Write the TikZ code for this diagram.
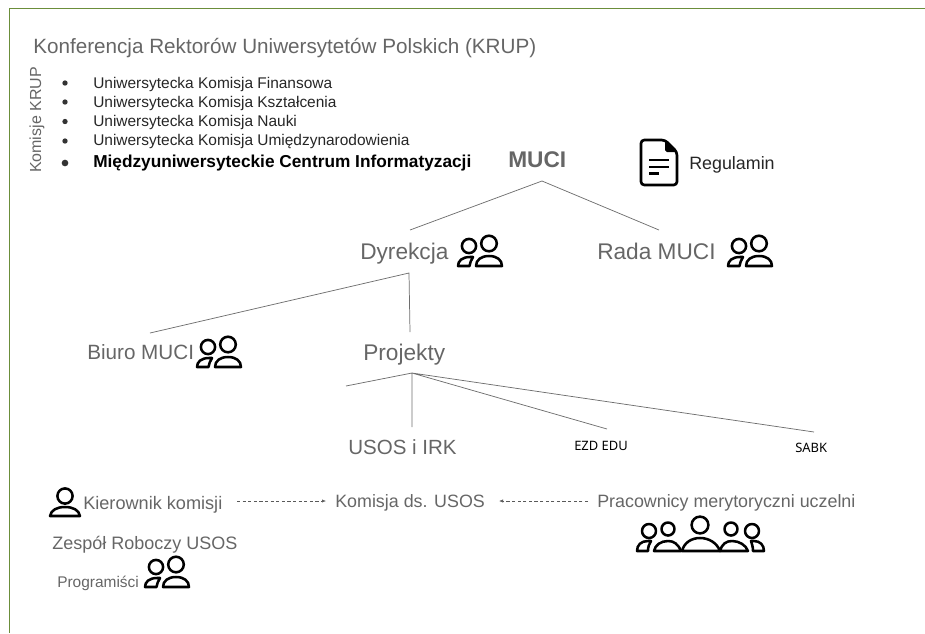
\documentclass[tikz,border=0pt]{standalone}
\usepackage{fontspec}
\usetikzlibrary{arrows.meta}
\setmainfont{Liberation Sans}
\newfontfamily\notosans{Noto Sans}
\definecolor{frameg}{HTML}{6B8E3A}
\definecolor{txtg}{HTML}{666666}
\definecolor{lineg}{HTML}{6E6E6E}
\tikzset{
  fs/.code={\pgfmathsetmacro\fsh{0.72*#1}\tikzset{font=\fontsize{#1}{#1}\selectfont,text height=\fsh pt}},
  fsb/.code={\pgfmathsetmacro\fsh{0.72*#1}\tikzset{font=\bfseries\fontsize{#1}{#1}\selectfont,text height=\fsh pt}},
  fsn/.code={\pgfmathsetmacro\fsh{0.72*#1}\tikzset{font=\notosans\fontsize{#1}{#1}\selectfont,text height=\fsh pt}},
  lbl/.style={anchor=west,inner sep=0pt,text=txtg,text depth=0pt,fs=17},
  midlbl/.style={lbl,fs=13.4},
  tinylbl/.style={lbl,text=black,fsn=9.7},
  listitem/.style={anchor=west,inner sep=0pt,text=black!85,text depth=0pt,fs=11.6},
  conn/.style={draw=lineg,line width=0.55pt},
  dasharrow/.style={draw=black!65,line width=0.45pt,dash pattern=on 2.4pt off 1.8pt,-{Latex[length=3pt,width=2.4pt]}},
  icon/.style={draw=black,line width=1.9pt,line join=round,fill=white},
  bullet/.style={circle,fill=black!80,draw=none,inner sep=0pt,minimum size=4pt},
  headicon/.pic={
    \draw[icon] (0,0) circle (7.6);
    \draw[icon] (-15,20) .. controls (-14,14) and (-8,11) .. (0,11) .. controls (8,11) and (14,14) .. (15,20) -- cycle;
  },
  twoicon/.pic={
    \draw[icon] (12,10) circle (7.1);
    \draw[icon] (32,7.5) circle (7.8);
    \draw[icon] (1,30) .. controls (1,25) and (5,21) .. (13,21) -- (16,21) .. controls (14,24) and (13,27) .. (12.5,30) -- cycle;
    \draw[icon] (19,30) .. controls (19,24) and (24,20) .. (32,20) .. controls (40,20) and (45,24) .. (45,30) -- cycle;
  },
  crowdicon/.pic={
    \draw[icon] (13,14) circle (7);
    \draw[icon] (32,12) circle (6.5);
    \draw[icon] (64,8) circle (8.4);
    \draw[icon] (95,12) circle (6.5);
    \draw[icon] (116,14) circle (7);
    \draw[icon] (1,34) .. controls (1,28) and (5,24) .. (12,24) -- (15,24) .. controls (13,27) and (12,30) .. (12,34) -- cycle;
    \draw[icon] (115,24) -- (118,24) .. controls (124,24) and (128,28) .. (128,34) -- (117,34) .. controls (117,30) and (116,27) .. (115,24) -- cycle;
    \draw[icon] (18,34) .. controls (19,28) and (25,24) .. (32,24) .. controls (38,24) and (42,27) .. (45,34) -- cycle;
    \draw[icon] (84,34) .. controls (86,27) and (90,24) .. (96,24) .. controls (103,24) and (110,28) .. (112,34) -- cycle;
    \draw[icon] (46,34) .. controls (48,26) and (55,21) .. (64,21) .. controls (73,21) and (81,26) .. (84,34) -- cycle;
  },
  docicon/.pic={
    \draw[draw=black,line width=2pt,line join=round,rounded corners=2.5pt] (0,0) -- (24,0) -- (36,12) -- (36,45) -- (0,45) -- cycle;
    \fill[black] (24,0) -- (36,12) -- (26,12) -- (24,10) -- cycle;
    \draw[black,line width=1.6pt] (8,20) -- (28,20) (8,27) -- (28,27) (8,33.5) -- (18,33.5);
  }
}
\begin{document}
\begin{tikzpicture}[x=0.75pt,y=-0.75pt]
\useasboundingbox (0,0) rectangle (925,633);
\draw[frameg,line width=0.75pt] (925,8.5) -- (9.5,8.5) -- (9.5,633);

\node[lbl,fs=15.5] (title) at (33,46) {Konferencja Rektorów Uniwersytetów Polskich (KRUP)};
\node[rotate=90,inner sep=0pt,text=txtg,font=\fontsize{12}{14}\selectfont] (krup) at (37,120) {Komisje KRUP};

\node[bullet] (b1) at (65,83) {};
\node[bullet] (b2) at (65,102) {};
\node[bullet] (b3) at (65,121.5) {};
\node[bullet] (b4) at (65,141) {};
\node[bullet,minimum size=5pt] (b5) at (65,163) {};
\node[listitem] (l1) at (93,83) {Uniwersytecka Komisja Finansowa};
\node[listitem] (l2) at (93,102) {Uniwersytecka Komisja Kształcenia};
\node[listitem] (l3) at (93,121) {Uniwersytecka Komisja Nauki};
\node[listitem] (l4) at (93,140) {Uniwersytecka Komisja Umiędzynarodowienia};
\node[listitem,fsb=12.95,text=black] (l5) at (93,161) {Międzyuniwersyteckie Centrum Informatyzacji};

\node[lbl,fsb=17] (muci) at (508,159) {MUCI};
\pic at (641,140) {docicon};
\node[midlbl,text=black!85] (reg) at (689,163) {Regulamin};

\node[lbl] (dyr) at (360,251) {Dyrekcja};
\pic at (457,236) {twoicon};
\node[lbl] (rada) at (597,251) {Rada MUCI};
\pic at (727,236) {twoicon};

\node[lbl,fs=15.5] (biuro) at (87,352) {Biuro MUCI};
\pic at (196,337) {twoicon};
\node[lbl] (proj) at (363,352) {Projekty};

\node[lbl,fs=15.4] (usos) at (348,447) {USOS i IRK};
\node[tinylbl] (ezd) at (574,446) {EZD EDU};
\node[tinylbl] (sabk) at (795,448) {SABK};

\coordinate (a1) at (542,181);
\coordinate (a1l) at (410,230);
\coordinate (a1r) at (659,230);
\draw[conn] (a1l) -- (a1) -- (a1r);
\coordinate (a2) at (409,273);
\coordinate (a2l) at (150,333);
\coordinate (a2r) at (410,332);
\draw[conn] (a2l) -- (a2) -- (a2r);
\coordinate (a3) at (412,373);
\coordinate (p1) at (346,386);
\coordinate (p2) at (412,427);
\coordinate (p4) at (607,429);
\coordinate (p5) at (814,432);
\draw[conn] (a3) -- (p1) (a3) -- (p2) (a3) -- (p4) (a3) -- (p5);

\pic at (65,496) {headicon};
\node[midlbl,fs=13.6] (kier) at (83,503) {Kierownik komisji};
\node[midlbl] (kom) at (335,501) {Komisja ds. USOS};
\node[midlbl] (prac) at (597,501) {Pracownicy merytoryczni uczelni};
\coordinate (d1) at (237,501);
\coordinate (d1e) at (326,501);
\coordinate (d2) at (588,501);
\coordinate (d2e) at (499,501);
\draw[dasharrow] (d1) -- (d1e);
\draw[dasharrow] (d2) -- (d2e);
\pic at (636,517) {crowdicon};

\node[midlbl,fs=13.5] (zesp) at (52,543) {Zespół Roboczy USOS};
\node[lbl,fs=11.6] (prog) at (57,582) {Programiści};
\pic at (144,557) {twoicon};
\end{tikzpicture}
\end{document}
